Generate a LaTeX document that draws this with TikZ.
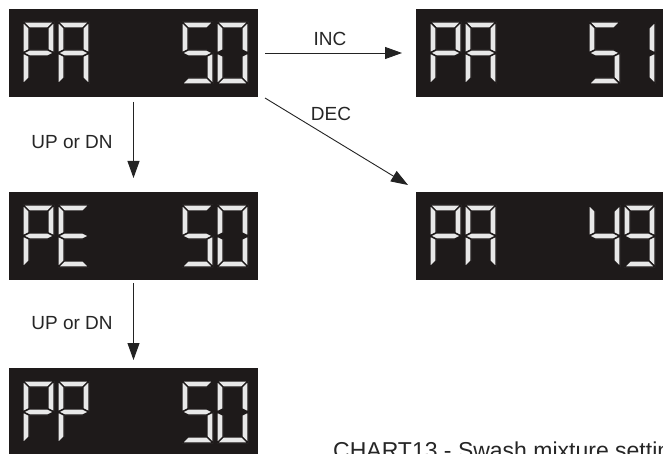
\documentclass[tikz,border=0pt]{standalone}
\usepackage{fontspec}
\setmainfont{Liberation Sans}
\usetikzlibrary{arrows.meta}
\definecolor{lcdbg}{RGB}{30,26,26}
\definecolor{segc}{RGB}{232,232,232}
\definecolor{arrc}{RGB}{35,35,35}
\tikzset{
  segstyle/.style={fill=segc, draw=lcdbg, line width=1.4pt, line join=round},
  lcd/.style={fill=lcdbg, minimum width=249pt, minimum height=88pt, inner sep=0pt, outer sep=0pt, anchor=north west},
  lbl/.style={inner sep=0pt, font=\fontsize{19}{22}\selectfont, text=black!85},
  arr/.style={draw=arrc, line width=0.9pt, -{Triangle[length=17pt,width=12pt]}}
}
% segments of a 7-segment character, 31 x 62, y downwards
\newcommand\sgA{\path[segstyle] (0,0)--(31,0)--(25,6)--(6,6)--cycle;}
\newcommand\sgB{\path[segstyle] (31,0)--(31,31)--(25,28)--(25,6)--cycle;}
\newcommand\sgC{\path[segstyle] (31,31)--(31,62)--(25,56)--(25,34)--cycle;}
\newcommand\sgD{\path[segstyle] (0,62)--(31,62)--(25,56)--(6,56)--cycle;}
\newcommand\sgE{\path[segstyle] (0,31)--(6,34)--(6,56)--(0,62)--cycle;}
\newcommand\sgF{\path[segstyle] (0,0)--(6,6)--(6,28)--(0,31)--cycle;}
\newcommand\sgG{\path[segstyle] (0,31)--(6,28)--(25,28)--(31,31)--(25,34)--(6,34)--cycle;}
\newcommand\lcdP{\sgA\sgB\sgF\sgG\sgE}
\newcommand\lcdA{\sgA\sgB\sgC\sgE\sgF\sgG}
\newcommand\lcdE{\sgA\sgD\sgE\sgF\sgG}
\newcommand\lcdFive{\sgA\sgF\sgG\sgC\sgD}
\newcommand\lcdZero{\sgA\sgB\sgC\sgD\sgE\sgF}
\newcommand\lcdOne{\sgB\sgC}
\newcommand\lcdFour{\sgF\sgG\sgB\sgC}
\newcommand\lcdNine{\sgA\sgB\sgC\sgD\sgF\sgG}
\newcommand\lcdshow[5]{%
  \begin{scope}[shift={(#1.north west)}]
    \begin{scope}[shift={(14,13)}]#2\end{scope}
    \begin{scope}[shift={(49,13)}]#3\end{scope}
    \begin{scope}[shift={(173,13)}]#4\end{scope}
    \begin{scope}[shift={(208,13)}]#5\end{scope}
  \end{scope}}
\begin{document}
\begin{tikzpicture}[x=1pt, y=-1pt]
\useasboundingbox (0,0) rectangle (663,454);
\clip (0,0) rectangle (663,454);
\fill[white] (0,0) rectangle (663,454);
% displays
\node[lcd] (b1)  at (9,9)    {};
\node[lcd] (pe)  at (9,192)  {};
\node[lcd] (pp)  at (9,368)  {};
\node[lcd] (inc) at (416,9)  {};
\node[lcd] (dec) at (416,192) {};
\lcdshow{b1}{\lcdP}{\lcdA}{\lcdFive}{\lcdZero}
\lcdshow{pe}{\lcdP}{\lcdE}{\lcdFive}{\lcdZero}
\lcdshow{pp}{\lcdP}{\lcdP}{\lcdFive}{\lcdZero}
\lcdshow{inc}{\lcdP}{\lcdA}{\lcdFive}{\lcdOne}
\lcdshow{dec}{\lcdP}{\lcdA}{\lcdFour}{\lcdNine}
% arrows
\draw[arr, shorten <=5pt, shorten >=14pt] (b1.south) -- (pe.north);
\draw[arr, shorten <=3pt, shorten >=8pt] (pe.south) -- (pp.north);
\draw[arr, shorten <=7pt, shorten >=14pt] (b1.east) -- (inc.west);
\draw[arr] ([shift={(7,1)}]b1.south east) -- ([shift={(-8,-7)}]dec.north west);
% labels
\node[lbl] (linc) at (330,39) {INC};
\node[lbl] (ldec) at (331,114) {DEC};
\node[lbl] (lud1) at (72,142) {UP or DN};
\node[lbl] (lud2) at (72,323) {UP or DN};
\node[inner sep=0pt, anchor=base west, font=\fontsize{23}{26}\selectfont, text=black!85] (cap) at (333,458.5) {CHART13 - Swash mixture setting};
\end{tikzpicture}
\end{document}
